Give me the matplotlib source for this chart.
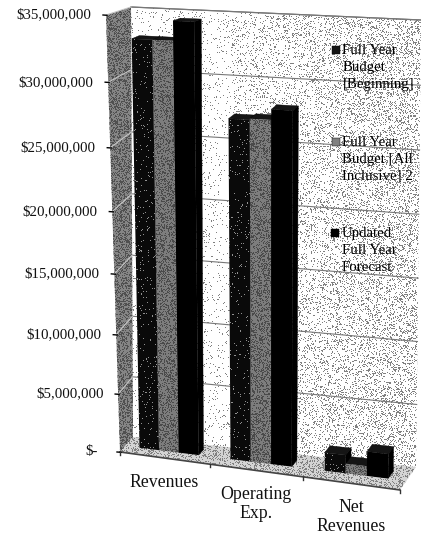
import numpy as np
import matplotlib
matplotlib.use("Agg")
import matplotlib.pyplot as plt
from matplotlib.patches import Polygon
from matplotlib.transforms import Transform

plt.rcParams["font.family"] = ["Liberation Serif", "DejaVu Serif"]

# Chart data, in dollars
categories = ["Revenues", "Operating\nExp.", "Net\nRevenues"]
budget_beginning = [33000000, 27300000, 1500000]
budget_all_inclusive = [33000000, 27400000, 800000]
updated_forecast = [34500000, 28200000, 2000000]
series_names = ["Full Year\nBudget\n[Beginning]", "Full Year\nBudget [All\nInclusive] 2", "Updated\nFull Year\nForecast"]
tick_values = [0, 5000000, 10000000, 15000000, 20000000, 25000000, 30000000, 35000000]
tick_labels = ["$-", "$5,000,000", "$10,000,000", "$15,000,000", "$20,000,000",
               "$25,000,000", "$30,000,000", "$35,000,000"]

W, H = 421, 535
VMAX = 35000000.0
NCAT = 3.0

# Box corners in pixels: bottom-left, bottom-right, top-right, top-left
FRONT = np.array([[120, 452], [400, 490], [412, 27], [106, 15]], float)
BACK = np.array([[133, 437], [416, 467], [421, 20], [131, 7]], float)


def homography(corners):
    """Matrix taking the unit square onto the four given corners."""
    src = [(0, 0), (1, 0), (1, 1), (0, 1)]
    a, b = [], []
    for (x, y), (X, Y) in zip(src, corners):
        a.append([x, y, 1, 0, 0, 0, -x * X, -y * X])
        a.append([0, 0, 0, x, y, 1, -x * Y, -y * Y])
        b += [X, Y]
    return np.append(np.linalg.solve(np.array(a), np.array(b)), 1).reshape(3, 3)


class DepthPlane(Transform):
    """Category/dollar coordinates on a vertical plane inside the 3-D box."""
    input_dims = 2
    output_dims = 2

    def __init__(self, depth):
        super().__init__()
        self.matrix = homography((1 - depth) * FRONT + depth * BACK)

    def transform_non_affine(self, values):
        pts = np.asarray(values, float)
        q = np.column_stack([pts[:, 0] / NCAT, pts[:, 1] / VMAX, np.ones(len(pts))])
        r = q @ self.matrix.T
        return r[:, :2] / r[:, 2:3]


front_plane, back_plane = DepthPlane(0.0), DepthPlane(1.0)
bar_front, bar_back = DepthPlane(0.40), DepthPlane(0.72)

fig = plt.figure(figsize=(W / 100, H / 100), dpi=100, facecolor="white")
ax = fig.add_axes([0, 0, 1, 1])
ax.set_xlim(0, W)
ax.set_ylim(H, 0)
ax.axis("off")

rng = np.random.default_rng(11)


def stipple(points, density, zorder, base="white", dot="#555555"):
    """Fill a pixel-space polygon with a fine halftone of dots."""
    patch = Polygon(points, closed=True, facecolor=base, edgecolor="none", zorder=zorder)
    ax.add_patch(patch)
    field = np.broadcast_to(density, (H, W))
    dots = rng.random((H, W)) < field
    rgba = np.zeros((H, W, 4))
    rgba[..., :3] = matplotlib.colors.to_rgb(dot)
    rgba[..., 3] = dots
    img = ax.imshow(rgba, extent=(0, W, H, 0), interpolation="nearest", zorder=zorder + 0.01, aspect="auto")
    img.set_clip_path(patch)
    return patch


xx = np.arange(W)[None, :] * np.ones((H, 1))
wall_density = np.clip(0.05 + (xx - 130) / 290 * 0.20, 0.04, 0.25)
wall_density = np.where((xx > 205) & (xx < 232), 0.05, wall_density)

# Box: back wall, left wall, floor
stipple(back_plane.transform(np.array([[0, 0], [3, 0], [3, VMAX], [0, VMAX]])), wall_density, 1, dot="#808080")
left_wall = np.vstack([front_plane.transform(np.array([[0, 0], [0, VMAX]])),
                       back_plane.transform(np.array([[0, VMAX], [0, 0]]))])
stipple(left_wall, 0.40, 2, base="#858585", dot="#505050")
floor = np.vstack([front_plane.transform(np.array([[0, 0], [3, 0]])),
                   back_plane.transform(np.array([[3, 0], [0, 0]]))])
stipple(floor, 0.30, 2, base="#d4d4d4", dot="#808080")

# Gridlines on the walls
for v in tick_values[1:]:
    a, b = back_plane.transform(np.array([[0, v], [3, v]]))
    ax.plot([a[0], b[0]], [a[1], b[1]], color="#777777", lw=0.8, zorder=1.5)
    c = front_plane.transform(np.array([[0, v]]))[0]
    ax.plot([c[0], a[0]], [c[1], a[1]], color="#c8c8c8", lw=0.8, zorder=2.5)
top_edge = back_plane.transform(np.array([[0, VMAX], [3, VMAX]]))
ax.plot(top_edge[:, 0], top_edge[:, 1], color="#777777", lw=0.9, zorder=1.5)
edge = front_plane.transform(np.array([[0, 0], [3, 0]]))
ax.plot(edge[:, 0], edge[:, 1], color="#444444", lw=1.2, zorder=3)

# Clustered bars, drawn left to right so each one hides its neighbour's side
BAR_WIDTH = 0.218
GROUP_START = 0.16
all_series = [budget_beginning, budget_all_inclusive, updated_forecast]
front_style = [("#0a0a0a", 0.04, "#909090"), ("#7d7d7d", 0.35, "#4a4a4a"), ("black", 0.0, "black")]
for s, values in enumerate(all_series):
    base, density, dot = front_style[s]
    for c, v in enumerate(values):
        u0 = c + GROUP_START + s * BAR_WIDTH
        u1 = u0 + BAR_WIDTH
        f = bar_front.transform(np.array([[u0, 0], [u1, 0], [u1, v], [u0, v]]))
        b = bar_back.transform(np.array([[u0, 0], [u1, 0], [u1, v], [u0, v]]))
        top = [f[3], f[2], b[2], b[3]]
        side = [f[1], b[1], b[2], f[2]]
        zo = 4 + c + s * 0.1
        ax.add_patch(Polygon(side, closed=True, fc="black", ec="black", lw=0.3, zorder=zo))
        ax.add_patch(Polygon(top, closed=True, fc="#151515", ec="black", lw=0.3, zorder=zo))
        stipple(f, density, zo + 0.02, base=base, dot=dot)

# Value axis ticks and labels
for v, lab in zip(tick_values, tick_labels):
    x, y = front_plane.transform(np.array([[0, v]]))[0]
    ax.plot([x - 3, x + 1], [y, y + 0.3], color="black", lw=1.0, zorder=9)
    gap = 22 if v == 0 else 14.5
    ax.text(x - gap, y, lab, ha="right", va="center", fontsize=10.7, color="#111111", zorder=9)

# Category ticks and labels
for i, name in enumerate(categories):
    x, y = front_plane.transform(np.array([[i + 1.0, 0]]))[0]
    ax.plot([x, x], [y, y + 3], color="#333333", lw=1.0, zorder=9)
    cx, cy = front_plane.transform(np.array([[i + 0.5, 0]]))[0]
    ax.text(cx, cy + 15.5, name, ha="center", va="top", fontsize=12.8, color="#111111",
            linespacing=1.15, zorder=9)
x, y = front_plane.transform(np.array([[0.0, 0]]))[0]
ax.plot([x, x], [y, y + 3], color="#333333", lw=1.0, zorder=9)

# Legend
legend_colors = ["#151515", "#808080", "black"]
legend_rows = [50, 142, 233]
legend_x = [336, 336, 335]
for name, color, ly, lx in zip(series_names, legend_colors, legend_rows, legend_x):
    ax.plot([lx], [ly], marker="s", ms=6, color=color, mec="black", mew=0.3, zorder=9)
    ax.text(lx + 6.5, ly - 6.5, name, ha="left", va="top", fontsize=10.7, color="black",
            linespacing=1.42, zorder=9)

fig.savefig("out.png", dpi=100, facecolor="white")
